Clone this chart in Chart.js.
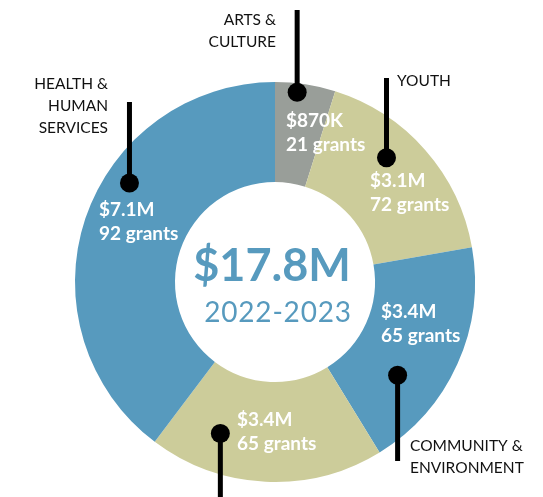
<!DOCTYPE html>
<html><head><meta charset="utf-8">
<script src="https://cdn.jsdelivr.net/npm/chart.js@4"></script>
<style>html,body{margin:0;padding:0;background:#fff;}#wrap{width:543px;height:497px;position:relative;}</style>
</head><body><div id="wrap"><canvas id="c"></canvas></div>
<script>
const categories = ['Arts & Culture', 'Youth', 'Community & Environment', '', 'Health & Human Services'];
const amounts = [0.87, 3.1, 3.4, 3.4, 7.1];
const amountLabels = ['$870K', '$3.1M', '$3.4M', '$3.4M', '$7.1M'];
const grantCounts = [21, 72, 65, 65, 92];
const categoryLines = [['ARTS &', 'CULTURE'], ['YOUTH'], ['COMMUNITY &', 'ENVIRONMENT'], [], ['HEALTH &', 'HUMAN', 'SERVICES']];
const totalLabel = '$17.8M';
const yearLabel = '2022-2023';

const colors = ['#999e99', '#cccc9a', '#579abe', '#cccc9a', '#579abe'];
// callout: fraction along arc angle, fraction across ring, line end y
const callouts = [
  {a: 0.38, r: 0.91, endY: 10},
  {a: 0.39, r: 0.67, endY: 78},
  {a: 0.69, r: 0.54, endY: 461},
  {a: 0.75, r: 0.61, endY: 497},
  {a: 0.61, r: 0.76, endY: 102}
];
const valuePos = [
  {x: 286, y: 121}, {x: 370, y: 181}, {x: 381, y: 312}, {x: 237, y: 420}, {x: 99, y: 210}
];
const catPos = [
  {x: 276, y: 20, align: 'right'}, {x: 397, y: 81, align: 'left'}, {x: 410, y: 446, align: 'left'},
  {x: 0, y: 0, align: 'left'}, {x: 108, y: 84, align: 'right'}
];

const overlay = {
  id: 'overlay',
  afterDatasetsDraw(chart) {
    const ctx = chart.ctx;
    const meta = chart.getDatasetMeta(0);
    ctx.save();
    // value labels
    ctx.fillStyle = '#ffffff';
    ctx.textBaseline = 'middle';
    ctx.textAlign = 'left';
    ctx.font = 'bold 19px Lato';
    meta.data.forEach((arc, i) => {
      const p = valuePos[i];
      ctx.fillText(amountLabels[i], p.x, p.y);
      ctx.fillText(grantCounts[i] + ' grants', p.x, p.y + 24);
    });
    // callouts
    meta.data.forEach((arc, i) => {
      const c = callouts[i];
      const ang = arc.startAngle + c.a * (arc.endAngle - arc.startAngle);
      const rad = arc.innerRadius + c.r * (arc.outerRadius - arc.innerRadius);
      const x = arc.x + Math.cos(ang) * rad;
      const y = arc.y + Math.sin(ang) * rad;
      ctx.strokeStyle = '#000';
      ctx.lineWidth = 5;
      ctx.beginPath();
      ctx.moveTo(x, y);
      ctx.lineTo(x, c.endY);
      ctx.stroke();
      ctx.fillStyle = '#000';
      ctx.beginPath();
      ctx.arc(x, y, 9.5, 0, Math.PI * 2);
      ctx.fill();
    });
    // category labels
    ctx.fillStyle = '#111';
    ctx.font = '15.5px Lato';
    categoryLines.forEach((lines, i) => {
      const p = catPos[i];
      ctx.textAlign = p.align;
      lines.forEach((t, k) => ctx.fillText(t, p.x, p.y + k * 22));
    });
    // center text
    const cx = meta.data[0].x, cy = meta.data[0].y;
    ctx.fillStyle = '#579abe';
    ctx.textAlign = 'center';
    ctx.font = 'bold 45px Lato';
    ctx.fillText(totalLabel, cx - 3, cy - 16);
    ctx.font = '400 28px Lato';
    ctx.letterSpacing = '0.8px';
    ctx.fillText(yearLabel, cx + 3, cy + 31);
    ctx.restore();
  }
};

new Chart(document.getElementById('c'), {
  type: 'doughnut',
  data: {
    labels: categories,
    datasets: [{
      data: amounts,
      backgroundColor: colors,
      borderWidth: 0,
      hoverOffset: 0
    }]
  },
  options: {
    responsive: true,
    maintainAspectRatio: false,
    animation: false,
    cutout: '50%',
    layout: {padding: {left: 7, right: 0, top: 82, bottom: 15}},
    plugins: {legend: {display: false}, tooltip: {enabled: false}},
    events: []
  },
  plugins: [overlay]
});
</script></body></html>
